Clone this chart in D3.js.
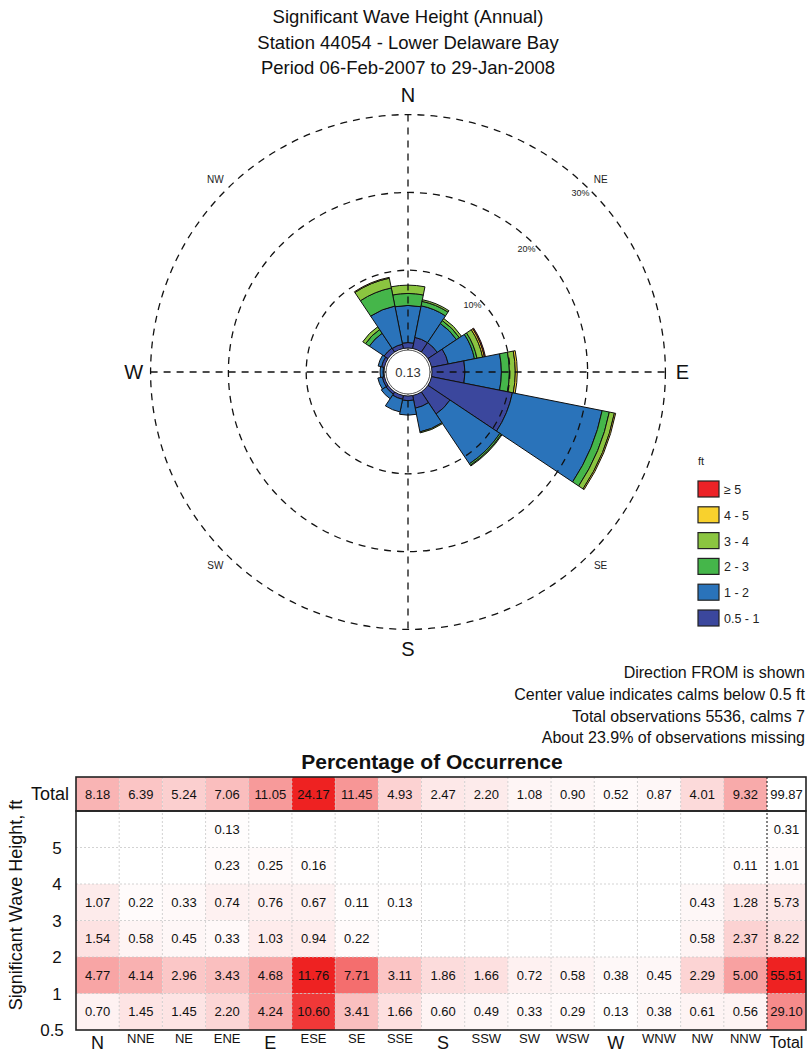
<!DOCTYPE html>
<html>
<head>
<meta charset="utf-8">
<script src="https://cdn.jsdelivr.net/npm/d3@7/dist/d3.min.js"></script>
<style>
  html, body { margin: 0; padding: 0; background: #fff; }
  svg { display: block; font-family: "Liberation Sans", Arial, Helvetica, sans-serif; }
  .narrow { font-family: "Liberation Sans Narrow", "Arial Narrow", "Liberation Sans", sans-serif; }
</style>
</head>
<body>
<svg id="chart" width="807" height="1052"></svg>
<script>
// ---- data ----
const directions = ["N","NNE","NE","ENE","E","ESE","SE","SSE","S","SSW","SW","WSW","W","WNW","NW","NNW"];
const binLabels  = ["0.5 - 1","1 - 2","2 - 3","3 - 4","4 - 5","\u2265 5"];
const binColors  = ["#3b479d","#2a73ba","#45b64a","#8bc540","#f8d12d","#ec2227"];
const heightTicks = ["0.5","1","2","3","4","5"];

// percentage of occurrence per direction, one array per wave-height bin (null = none)
const pct05to1 = [0.70,1.45,1.45,2.20,4.24,10.60,3.41,1.66,0.60,0.49,0.33,0.29,0.13,0.38,0.61,0.56];
const pct1to2  = [4.77,4.14,2.96,3.43,4.68,11.76,7.71,3.11,1.86,1.66,0.72,0.58,0.38,0.45,2.29,5.00];
const pct2to3  = [1.54,0.58,0.45,0.33,1.03,0.94,0.22,null,null,null,null,null,null,null,0.58,2.37];
const pct3to4  = [1.07,0.22,0.33,0.74,0.76,0.67,0.11,0.13,null,null,null,null,null,null,0.43,1.28];
const pct4to5  = [null,null,null,0.23,0.25,0.16,null,null,null,null,null,null,null,null,null,0.11];
const pct5up   = [null,null,null,0.13,null,null,null,null,null,null,null,null,null,null,null,null];
const binSeries = [pct05to1, pct1to2, pct2to3, pct3to4, pct4to5, pct5up];

const directionTotals = [8.18,6.39,5.24,7.06,11.05,24.17,11.45,4.93,2.47,2.20,1.08,0.90,0.52,0.87,4.01,9.32];
const binTotals = [29.10,55.51,8.22,5.73,1.01,0.31];
const grandTotal = 99.87;
const calmPercent = 0.13;
const ringTicks = [10,20,30];

const titleLines = ["Significant Wave Height (Annual)","Station 44054 - Lower Delaware Bay","Period 06-Feb-2007 to 29-Jan-2008"];
const noteLines = ["Direction FROM is shown","Center value indicates calms below 0.5 ft","Total observations 5536, calms 7","About 23.9% of observations missing"];

// ---- drawing ----
const svg = d3.select("#chart");

svg.append("g").selectAll("text").data(titleLines).join("text")
  .attr("x", 408).attr("y", (d,i) => 23 + i*25.5)
  .attr("text-anchor","middle").attr("font-size", 18.5).attr("fill","#111")
  .text(d => d);

// wind rose
const cx = 408, cy = 372;
const rose = svg.append("g").attr("transform", `translate(${cx},${cy})`);
const r = d3.scaleLinear().domain([0, 30]).range([24, 257.4]);
const sector = 2*Math.PI/directions.length;

// stacked wedges
const arc = d3.arc();
const stacked = [];
directions.forEach((dir, i) => {
  let base = 0;
  binSeries.forEach((series, b) => {
    const v = series[i];
    if (v == null) return;
    stacked.push({dir: i, bin: b, lo: base, hi: base + v});
    base += v;
  });
});
rose.append("g").selectAll("path").data(stacked).join("path")
  .attr("d", d => arc({
    innerRadius: r(d.lo), outerRadius: r(d.hi),
    startAngle: (d.dir - 0.5)*sector, endAngle: (d.dir + 0.5)*sector
  }))
  .attr("fill", d => binColors[d.bin])
  .attr("stroke", "#111").attr("stroke-width", 1);

// dashed rings and cross hairs
const dash = "7,6";
rose.append("g").selectAll("circle").data(ringTicks).join("circle")
  .attr("r", d => r(d)).attr("fill","none")
  .attr("stroke","#111").attr("stroke-width",1.3).attr("stroke-dasharray",dash);
const rMax = r(30);
rose.append("line").attr("x1",-rMax).attr("x2",rMax).attr("y1",0).attr("y2",0)
  .attr("stroke","#111").attr("stroke-width",1.3).attr("stroke-dasharray",dash);
rose.append("line").attr("y1",-rMax).attr("y2",rMax).attr("x1",0).attr("x2",0)
  .attr("stroke","#111").attr("stroke-width",1.3).attr("stroke-dasharray",dash);

// ring labels
rose.append("g").selectAll("text").data(ringTicks).join("text")
  .attr("x", d => (r(d) - 9)*Math.sin(44*Math.PI/180))
  .attr("y", d => -(r(d) - 9)*Math.cos(44*Math.PI/180) + 3)
  .attr("text-anchor","middle").attr("font-size",9).attr("fill","#222")
  .text(d => d + "%");

// calm circle
rose.append("circle").attr("r", 22).attr("fill","#fff").attr("stroke","#222").attr("stroke-width",0.8);
rose.append("text").attr("y",5).attr("text-anchor","middle").attr("font-size",13).attr("fill","#333")
  .text(calmPercent.toFixed(2));

// compass labels
const cardinals = [{t:"N",a:0},{t:"E",a:90},{t:"S",a:180},{t:"W",a:270}];
rose.append("g").selectAll("text").data(cardinals).join("text")
  .attr("x", d => (rMax + 17)*Math.sin(d.a*Math.PI/180))
  .attr("y", d => -(rMax + 20)*Math.cos(d.a*Math.PI/180) + 7)
  .attr("text-anchor","middle").attr("font-size",20).attr("fill","#111")
  .text(d => d.t);
const inter = [{t:"NE",a:45},{t:"SE",a:135},{t:"SW",a:225},{t:"NW",a:315}];
rose.append("g").selectAll("text").data(inter).join("text")
  .attr("x", d => (rMax + 15)*Math.sin(d.a*Math.PI/180))
  .attr("y", d => -(rMax + 15)*Math.cos(d.a*Math.PI/180) + 4)
  .attr("text-anchor","middle").attr("font-size",10).attr("fill","#222")
  .text(d => d.t);

// legend
const legend = svg.append("g").attr("transform","translate(698,461)");
legend.append("text").attr("x",0).attr("y",4).attr("font-size",11).attr("fill","#222").text("ft");
const legendOrder = d3.range(binLabels.length).reverse();
const lg = legend.selectAll("g.item").data(legendOrder).join("g").attr("class","item")
  .attr("transform",(d,i) => `translate(0,${20 + i*25.8})`);
lg.append("rect").attr("width",21).attr("height",16).attr("fill", d => binColors[d])
  .attr("stroke","#222").attr("stroke-width",1.2);
lg.append("text").attr("x",26).attr("y",13).attr("font-size",12.5).attr("fill","#222")
  .text(d => binLabels[d]);

// notes
svg.append("g").selectAll("text").data(noteLines).join("text")
  .attr("x",805).attr("y",(d,i) => 678 + i*21.8)
  .attr("text-anchor","end").attr("font-size",16).attr("fill","#111")
  .text(d => d);

// ---- table ----
svg.append("text").attr("x",432).attr("y",769).attr("text-anchor","middle")
  .attr("font-size",21).attr("font-weight","bold").attr("fill","#111")
  .text("Percentage of Occurrence");

const colX = d3.scaleBand().domain(directions).range([76, 767]);
const totalCol = {x0: 767, x1: 806};
const rowY = d3.scaleBand().domain(d3.range(binLabels.length).reverse()).range([811, 1030]);
const totalRow = {y0: 777, y1: 811};
// row boundaries: "5" sits under the top (>= 5) row, "0.5" at the bottom edge
const yEdge = d3.scalePoint().domain(heightTicks.slice().reverse()).range([rowY(5) + rowY.bandwidth(), 1030]);

const gridMax = d3.max(binSeries.flat().filter(v => v != null));
const cellColor = d3.scaleLinear().domain([0, gridMax]).range(["#ffffff","#ee2222"]);
const rowTotColor = d3.scaleLinear().domain([0, d3.max(directionTotals)]).range(["#ffffff","#ee2222"]);
const colTotColor = d3.scaleLinear().domain([0, d3.max(binTotals)]).range(["#ffffff","#ee2222"]);

const cells = [];
binSeries.forEach((series, b) => series.forEach((v, i) => { if (v != null) cells.push({b, i, v}); }));

const tbl = svg.append("g");
// main grid cells
tbl.append("g").selectAll("rect").data(cells).join("rect")
  .attr("x", d => colX(directions[d.i])).attr("y", d => rowY(d.b))
  .attr("width", colX.bandwidth()).attr("height", rowY.bandwidth())
  .attr("fill", d => cellColor(d.v));
// total column cells
tbl.append("g").selectAll("rect").data(binTotals).join("rect")
  .attr("x", totalCol.x0).attr("y", (d,b) => rowY(b))
  .attr("width", totalCol.x1 - totalCol.x0).attr("height", rowY.bandwidth())
  .attr("fill", d => colTotColor(d));
// total row cells
tbl.append("g").selectAll("rect").data(directionTotals).join("rect")
  .attr("x", (d,i) => colX(directions[i])).attr("y", totalRow.y0)
  .attr("width", colX.bandwidth()).attr("height", totalRow.y1 - totalRow.y0)
  .attr("fill", d => rowTotColor(d));

// dotted grid lines
const gridG = tbl.append("g").attr("stroke","#c8c8c8").attr("stroke-width",0.8).attr("stroke-dasharray","2,2");
directions.slice(1).forEach(d => {
  gridG.append("line").attr("x1",colX(d)).attr("x2",colX(d)).attr("y1",totalRow.y0).attr("y2",1030);
});
d3.range(1, binLabels.length).forEach(b => {
  gridG.append("line").attr("x1",76).attr("x2",totalCol.x1).attr("y1",rowY(b) + rowY.bandwidth()).attr("y2",rowY(b) + rowY.bandwidth());
});
// total column separator
tbl.append("line").attr("x1",totalCol.x0).attr("x2",totalCol.x0).attr("y1",totalRow.y0).attr("y2",1030)
  .attr("stroke","#333").attr("stroke-width",1.2).attr("stroke-dasharray","2,2");
// panel borders
tbl.append("rect").attr("x",76).attr("y",totalRow.y0).attr("width",totalCol.x1-76).attr("height",totalRow.y1-totalRow.y0)
  .attr("fill","none").attr("stroke","#222").attr("stroke-width",1.6);
tbl.append("rect").attr("x",76).attr("y",811).attr("width",totalCol.x1-76).attr("height",1030-811)
  .attr("fill","none").attr("stroke","#222").attr("stroke-width",1.6);

// cell values
const valG = tbl.append("g").attr("class","narrow").attr("font-size",13).attr("fill","#111").attr("text-anchor","middle");
valG.selectAll("text.c").data(cells).join("text").attr("class","c")
  .attr("x", d => colX(directions[d.i]) + colX.bandwidth()/2)
  .attr("y", d => rowY(d.b) + rowY.bandwidth()/2 + 4.5)
  .text(d => d.v.toFixed(2));
valG.selectAll("text.rt").data(directionTotals).join("text").attr("class","rt")
  .attr("x", (d,i) => colX(directions[i]) + colX.bandwidth()/2)
  .attr("y", (totalRow.y0 + totalRow.y1)/2 + 4.5)
  .text(d => d.toFixed(2));
valG.selectAll("text.ct").data(binTotals).join("text").attr("class","ct")
  .attr("x", (totalCol.x0 + totalCol.x1)/2)
  .attr("y", (d,b) => rowY(b) + rowY.bandwidth()/2 + 4.5)
  .text(d => d.toFixed(2));
valG.append("text").attr("x",(totalCol.x0 + totalCol.x1)/2).attr("y",(totalRow.y0 + totalRow.y1)/2 + 4.5)
  .text(grandTotal.toFixed(2));

// axes labels
const axG = svg.append("g").attr("class","narrow").attr("fill","#111");
axG.append("text").attr("x",69).attr("y",(totalRow.y0 + totalRow.y1)/2 + 6)
  .attr("text-anchor","end").attr("font-size",18).text("Total");
axG.selectAll("text.yt").data(heightTicks).join("text").attr("class","yt")
  .attr("x", d => d === "0.5" ? 52 : 57).attr("y", d => yEdge(d) + 6)
  .attr("text-anchor","middle").attr("font-size",17).text(d => d);
svg.append("text").attr("transform","translate(22,905) rotate(-90)")
  .attr("text-anchor","middle").attr("font-size",18).attr("fill","#111")
  .text("Significant Wave Height, ft");

const bigDirs = new Set(["N","E","S","W"]);
axG.selectAll("text.xt").data(directions).join("text").attr("class","xt")
  .attr("x", d => colX(d) + colX.bandwidth()/2)
  .attr("y", d => bigDirs.has(d) ? 1049 : 1043)
  .attr("text-anchor","middle").attr("font-size", d => bigDirs.has(d) ? 18 : 13)
  .text(d => d);
axG.append("text").attr("x",(totalCol.x0 + totalCol.x1)/2).attr("y",1048)
  .attr("text-anchor","middle").attr("font-size",16).text("Total");
</script>
</body>
</html>
